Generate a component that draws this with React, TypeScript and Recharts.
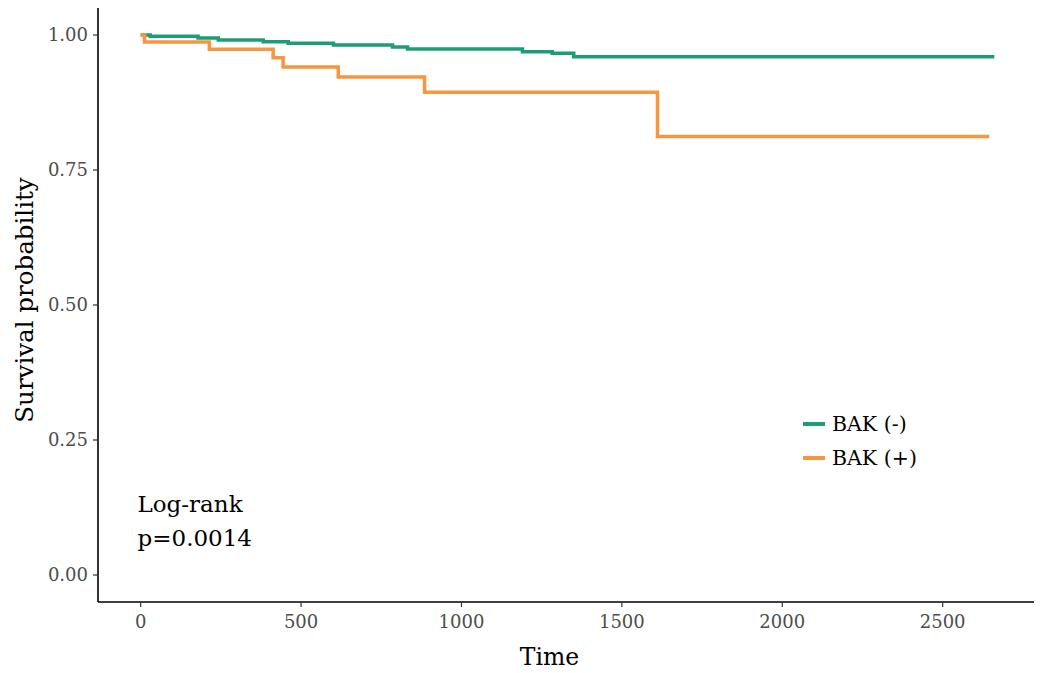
import React from "react";
import { LineChart, Line, XAxis, YAxis, Legend, Label } from "recharts";

const seriesNames = ["BAK (-)", "BAK (+)"];
const seriesColors = ["#1b9e77", "#f7963f"];

const negTimes = [0, 30, 179, 242, 382, 460, 601, 785, 832, 1190, 1283, 1350, 2661];
const negSurv = [1, 0.9976, 0.9944, 0.9907, 0.9876, 0.9846, 0.9815, 0.9778, 0.9741, 0.9691, 0.9661, 0.9598, 0.9598];

const posTimes = [0, 12, 214, 413, 444, 616, 885, 1611, 2645];
const posSurv = [1, 0.987, 0.9735, 0.958, 0.9407, 0.922, 0.894, 0.812, 0.812];

const xTicks = [0, 500, 1000, 1500, 2000, 2500];
const yTicks = [0, 0.25, 0.5, 0.75, 1];

const pValueLines = ["Log-rank", "p=0.0014"];

const negData = negTimes.map((t, i) => ({ t, s: negSurv[i] }));
const posData = posTimes.map((t, i) => ({ t, s: posSurv[i] }));

const FONT = "'DejaVu Serif', serif";

const LegendContent = () => (
  <div style={{ fontFamily: FONT }}>
    {seriesNames.map((n, i) => (
      <div key={n} style={{ display: "flex", alignItems: "center", height: 34 }}>
        <div style={{ width: 22, height: 3.5, background: seriesColors[i], marginRight: 7 }} />
        <span style={{ fontSize: 20.5, color: "#000" }}>{n}</span>
      </div>
    ))}
  </div>
);

export default function App() {
  return (
    <div style={{ position: "relative", width: 1034, height: 665 }}>
      <LineChart width={1034} height={665} margin={{ top: 0, right: 5, bottom: 0, left: 0 }}>
        <XAxis
          type="number"
          dataKey="t"
          domain={[-133, 2794]}
          ticks={xTicks}
          allowDataOverflow
          height={71}
          tickSize={5}
          tickMargin={8}
          axisLine={{ stroke: "#000", strokeWidth: 1.6 }}
          tickLine={{ stroke: "#333", strokeWidth: 1.2 }}
          tick={{ fill: "#4d4d4d", fontSize: 18, fontFamily: FONT }}
        >
          <Label
            content={() => (
              <text x={541.4} y={657} textAnchor="middle" fontFamily={FONT} fontSize={23.5} fill="#000">
                Time
              </text>
            )}
          />
        </XAxis>
        <YAxis
          type="number"
          domain={[-0.05, 1.05]}
          ticks={yTicks}
          allowDataOverflow
          width={90}
          tickSize={5}
          tickMargin={5}
          tickFormatter={(v: number) => v.toFixed(2)}
          axisLine={{ stroke: "#000", strokeWidth: 1.6 }}
          tickLine={{ stroke: "#333", strokeWidth: 1.2 }}
          tick={{ fill: "#4d4d4d", fontSize: 18, fontFamily: FONT }}
        >
          <Label
            content={() => (
              <text
                x={0}
                y={0}
                transform="translate(25.3, 292) rotate(-90)"
                textAnchor="middle"
                fontFamily={FONT}
                fontSize={24.5}
                fill="#000"
              >
                Survival probability
              </text>
            )}
          />
        </YAxis>
        <Line
          data={negData}
          dataKey="s"
          name={seriesNames[0]}
          type="stepAfter"
          stroke={seriesColors[0]}
          strokeWidth={3.5}
          dot={false}
          activeDot={false}
          isAnimationActive={false}
        />
        <Line
          data={posData}
          dataKey="s"
          name={seriesNames[1]}
          type="stepAfter"
          stroke={seriesColors[1]}
          strokeWidth={3.5}
          dot={false}
          activeDot={false}
          isAnimationActive={false}
        />
        <Legend
          layout="vertical"
          align="center"
          verticalAlign="middle"
          content={() => <LegendContent />}
          wrapperStyle={{ left: 795, top: 399, width: "auto", height: "auto" }}
        />
      </LineChart>
      <div
        style={{
          position: "absolute",
          left: 129.5,
          top: 479,
          fontFamily: FONT,
          fontSize: 23,
          lineHeight: "34px",
          color: "#000",
        }}
      >
        {pValueLines.map((l) => (
          <div key={l}>{l}</div>
        ))}
      </div>
    </div>
  );
}
